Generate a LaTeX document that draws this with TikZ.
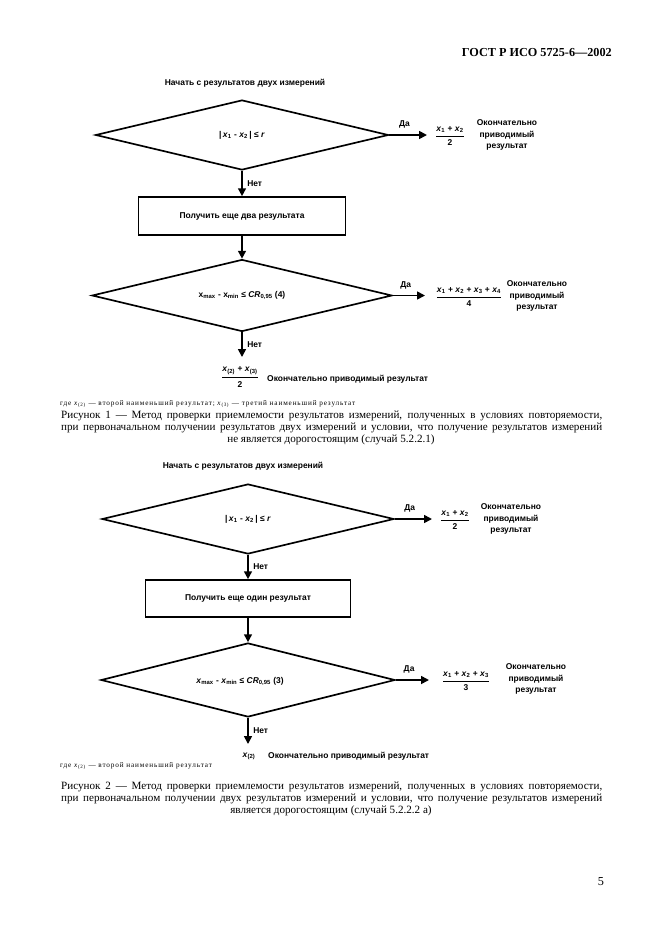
\documentclass[tikz,border=0pt]{standalone}
\usepackage{amsmath}
\usepackage{fontspec}
\setmainfont{Liberation Serif}
\newfontfamily\dsans{Liberation Sans}
\usetikzlibrary{shapes.geometric,arrows.meta}
\newcommand\frc[2]{\ensuremath{\genfrac{}{}{0.9pt}{0}{\text{#1}}{\text{#2}}}}
\newcommand\xv[1]{\textit{x}\textsubscript{#1}}
\tikzset{
  dfont/.style={font=\dsans\bfseries\fontsize{7.6}{10.3}\selectfont},
  dia/.style={diamond, draw, line width=1.5pt, inner sep=0pt, shape aspect=4.1, dfont},
  pbox/.style={rectangle, draw, line width=1.5pt, dfont},
  lbl/.style={dfont, inner sep=0pt},
  flow/.style={line width=1.5pt, -{Triangle[length=7pt,width=7pt]}},
  capt/.style={font=\fontsize{10}{12}\selectfont, inner sep=0pt},
  fnote/.style={font=\fontsize{6.5}{8}\selectfont\addfontfeature{LetterSpace=12}, inner sep=0pt},
}
\begin{document}
\begin{tikzpicture}[x=0.9pt,y=-0.9pt]
\useasboundingbox (0,0) rectangle (661,936);
\node[anchor=east, inner sep=0pt, font=\bfseries\fontsize{11}{13}\selectfont] (hdr) at (612,52) {ГОСТ Р ИСО 5725-6—2002};

% ---------- Figure 1 ----------
\node[lbl] (start1) at (245,83) {Начать с результатов двух измерений};
\node[dia, minimum width=263.7pt, minimum height=63pt] (d1) at (242,135) {|\,\xv{1} - \xv{2}\,| ≤ \textit{r}};
\coordinate (y1) at (427,135);
\draw[flow] (d1.east) -- node[lbl, above=5pt, pos=0.4] (da1) {Да} (y1);
\node[lbl] (f1) at (450,136) {\frc{\xv{1} + \xv{2}}{2}};
\node[lbl, align=center] (r1) at (507,135) {Окончательно\\приводимый\\результат};
\node[pbox, minimum width=186.3pt, minimum height=34.2pt] (b1) at (242,216) {Получить еще два результата};
\draw[flow] (d1.south) -- node[lbl, right=4pt] (net1) {Нет} (b1.north);
\node[dia, minimum width=270pt, minimum height=64.8pt] (d2) at (242,295.5) {x\textsubscript{max} - x\textsubscript{min} ≤ \textit{CR}\textsubscript{0,95} (4)};
\draw[flow] (b1.south) -- (d2.north);
\coordinate (y2) at (425,295.5);
\draw[flow] (d2.east) -- node[lbl, above=5pt, pos=0.4] (da2) {Да} (y2);
\node[lbl] (f2) at (469,297) {\frc{\xv{1} + \xv{2} + \xv{3} + \xv{4}}{4}};
\node[lbl, align=center] (r2) at (537,296) {Окончательно\\приводимый\\результат};
\coordinate (n2) at (242,357);
\draw[flow] (d2.south) -- node[lbl, right=4pt] (net2) {Нет} (n2);
\node[lbl] (f3) at (240,377) {\frc{\xv{(2)} + \xv{(3)}}{2}};
\node[lbl, anchor=west] (r3) at (267,379) {Окончательно приводимый результат};
\node[fnote, anchor=west] (fn1) at (60,404) {где \textit{x}\textsubscript{(2)} — второй наименьший результат; \textit{x}\textsubscript{(3)} — третий наименьший результат};
\node[capt, anchor=west] (c1a) at (61,416) {\makebox[487pt][s]{Рисунок 1 — Метод проверки приемлемости результатов измерений, полученных в условиях повторяемости,}};
\node[capt, anchor=west] (c1b) at (61,428) {\makebox[487pt][s]{при первоначальном получении результатов двух измерений и условии, что получение результатов измерений}};
\node[capt] (c1c) at (331,440) {не является дорогостоящим (случай 5.2.2.1)};

% ---------- Figure 2 ----------
\node[lbl] (start2) at (243,466) {Начать с результатов двух измерений};
\node[dia, minimum width=262.8pt, minimum height=63pt] (d3) at (248,519) {|\,\xv{1} - \xv{2}\,| ≤ \textit{r}};
\coordinate (y3) at (432,519);
\draw[flow] (d3.east) -- node[lbl, above=5pt, pos=0.4] (da3) {Да} (y3);
\node[lbl] (f4) at (455,520) {\frc{\xv{1} + \xv{2}}{2}};
\node[lbl, align=center] (r4) at (511,519) {Окончательно\\приводимый\\результат};
\node[pbox, minimum width=184.5pt, minimum height=33.3pt] (b2) at (248,598.5) {Получить еще один результат};
\draw[flow] (d3.south) -- node[lbl, right=4pt] (net3) {Нет} (b2.north);
\node[dia, minimum width=264.6pt, minimum height=66.6pt] (d4) at (248,680) {};
\node[lbl] (t4) at (240,681) {\xv{max} - \xv{min} ≤ \textit{CR}\textsubscript{0,95} (3)};
\draw[flow] (b2.south) -- (d4.north);
\coordinate (y4) at (429,680);
\draw[flow] (d4.east) -- node[lbl, above=5pt, pos=0.4] (da4) {Да} (y4);
\node[lbl] (f5) at (466,681) {\frc{\xv{1} + \xv{2} + \xv{3}}{3}};
\node[lbl, align=center] (r5) at (536,679) {Окончательно\\приводимый\\результат};
\coordinate (n4) at (248,744);
\draw[flow] (d4.south) -- node[lbl, right=4pt] (net4) {Нет} (n4);
\node[lbl] (f6) at (249,756) {\xv{(2)}};
\node[lbl, anchor=west] (r6) at (268,756) {Окончательно приводимый результат};
\node[fnote, anchor=west] (fn2) at (60,766) {где \textit{x}\textsubscript{(2)} — второй наименьший результат};
\node[capt, anchor=west] (c2a) at (61,787) {\makebox[487pt][s]{Рисунок 2 — Метод проверки приемлемости результатов измерений, полученных в условиях повторяемости,}};
\node[capt, anchor=west] (c2b) at (61,799) {\makebox[487pt][s]{при первоначальном получении двух результатов измерений и условии, что получение результатов измерений}};
\node[capt] (c2c) at (331,811) {является дорогостоящим (случай 5.2.2.2 а)};

\node[capt, font=\fontsize{11}{13}\selectfont] (pg) at (601,882) {5};
\end{tikzpicture}
\end{document}
